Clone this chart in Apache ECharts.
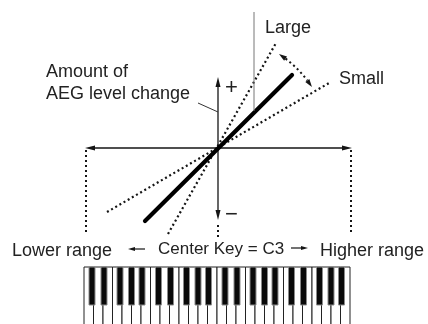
<!DOCTYPE html>
<html><head><meta charset="utf-8">
<script src="https://cdn.jsdelivr.net/npm/echarts/dist/echarts.min.js"></script>
<style>html,body{margin:0;padding:0;background:#fff}#c{width:428px;height:324px}</style>
</head><body><div id="c"></div>
<script>
// ---- Diagram data (origin = Center Key C3 / zero level change) ----
const largeLine   = [[-50, -86], [58, 105]];
const normalLine  = [[-73, -73], [74, 73]];
const smallLine   = [[-111, -64], [111, 65]];
const keyAxis     = [[-133, 0], [134, 0]];
const levelAxis   = [[0, 71], [0, -72]];
const levelAxisExt = [[0, -77], [0, -89]];
const lowerBound  = [[-132, -2], [-132, -84]];
const higherBound = [[133, -2], [133, -84]];
const largeLeader = [[36, 136], [36, 37]];
const aegLeader   = [[-20, 45], [0, 36]];
const leftArrow   = [[-73, -101], [-90, -101]];
const rightArrow  = [[73, -100], [90, -100]];
const arcRadius   = 112;
const arcAngles   = [33, 57];          // degrees, Small -> Large
const labelTexts  = ['Large', 'Small', 'Amount of', 'AEG level change', '+', '\u2212',
                     'Lower range', 'Center Key = C3', 'Higher range'];
const labelPos    = [[47, 120], [121, 69], [-172, 76], [-172, 54], [7, 60], [7, -67],
                     [-206, -103], [-60, -101], [102, -103]];
const labelSize   = [18, 18, 18, 18, 22, 22, 18, 17, 18];
const whiteKeyCount = 28;               // C1 .. B4
const blackKeyPattern = [0, 1, 3, 4, 5]; // C#, D#, F#, G#, A# (after white key index)
const blackKeyShift = [-1.5, 1, -2, 0, 1];

// ---- layout constants ----
const KB_LEFT = -134, KB_W = 9.5, KB_TOP = -119, KB_BLACK_BOTTOM = -157, KB_BOTTOM = -176, BK_W = 6;
const FONT = '"Liberation Sans", Arial, Helvetica, sans-serif';
const INK = '#151515';

function head(tip, from, len, wid, color) {
  const dx = tip[0] - from[0], dy = tip[1] - from[1];
  const L = Math.hypot(dx, dy), ux = dx / L, uy = dy / L;
  const bx = tip[0] - ux * len, by = tip[1] - uy * len;
  const px = -uy * wid / 2, py = ux * wid / 2;
  return {type: 'polygon', shape: {points: [tip, [bx + px, by + py], [bx - px, by - py]]},
          style: {fill: color, stroke: null}};
}

const segments = [
  {pts: keyAxis, w: 1.3, c: INK, heads: [1, 1], hl: 10, hw: 5},
  {pts: levelAxis, w: 1.3, c: INK, heads: [1, 1], hl: 10, hw: 5},
  {pts: levelAxisExt, w: 2, c: INK, dash: [2, 3]},
  {pts: lowerBound, w: 2, c: INK, dash: [2, 3]},
  {pts: higherBound, w: 2, c: INK, dash: [2, 3]},
  {pts: largeLine, w: 2.2, c: INK, dash: [2, 2.8]},
  {pts: smallLine, w: 2.2, c: INK, dash: [2, 2.8]},
  {pts: normalLine, w: 4.2, c: '#000', cap: 'round'},
  {pts: largeLeader, w: 1, c: '#777'},
  {pts: aegLeader, w: 1, c: '#333'},
  {pts: leftArrow, w: 1.2, c: INK, heads: [0, 1], hl: 7, hw: 4},
  {pts: rightArrow, w: 1.2, c: INK, heads: [0, 1], hl: 7, hw: 4}
];

const chart = echarts.init(document.getElementById('c'), null, {renderer: 'canvas'});

const option = {
  animation: false,
  backgroundColor: '#fff',
  grid: {left: 0, right: 0, top: 0, bottom: 0},
  xAxis: {type: 'value', min: -218, max: 210, show: false},
  yAxis: {type: 'value', min: -176, max: 148, show: false},
  series: [
    { // white keys
      type: 'custom', z: 1, clip: false,
      data: Array.from({length: whiteKeyCount}, (_, i) => [i]),
      renderItem: (params, api) => {
        const i = api.value(0);
        const a = api.coord([KB_LEFT + i * KB_W, KB_TOP]);
        const b = api.coord([KB_LEFT + (i + 1) * KB_W, KB_BOTTOM + 2]);
        return {type: 'rect', shape: {x: a[0], y: a[1], width: b[0] - a[0], height: b[1] - a[1] + 4},
                style: {fill: '#fff', stroke: '#222', lineWidth: 1}};
      }
    },
    { // black keys
      type: 'custom', z: 2, clip: false,
      data: (() => { const d = []; for (let o = 0; o < 4; o++) blackKeyPattern.forEach((k, j) => d.push([o * 7 + k, j])); return d; })(),
      renderItem: (params, api) => {
        const i = api.value(0), j = api.value(1);
        const cx = KB_LEFT + (i + 1) * KB_W + blackKeyShift[j];
        const a = api.coord([cx - BK_W / 2, KB_TOP]);
        const b = api.coord([cx + BK_W / 2, KB_BLACK_BOTTOM]);
        return {type: 'rect', shape: {x: a[0], y: a[1], width: b[0] - a[0], height: b[1] - a[1]},
                style: {fill: '#0a0a0a', stroke: '#8a8a8a', lineWidth: 1}};
      }
    },
    { // line segments and arrows
      type: 'custom', z: 3, clip: false,
      data: segments.map(s => [s.pts[0][0], s.pts[0][1], s.pts[1][0], s.pts[1][1]]),
      renderItem: (params, api) => {
        const s = segments[params.dataIndex];
        let p1 = api.coord([api.value(0), api.value(1)]);
        let p2 = api.coord([api.value(2), api.value(3)]);
        const children = [];
        const dx = p2[0] - p1[0], dy = p2[1] - p1[1], L = Math.hypot(dx, dy);
        const ux = dx / L, uy = dy / L;
        let q1 = p1.slice(), q2 = p2.slice();
        if (s.heads && s.heads[0]) { children.push(head(p1, p2, s.hl, s.hw, s.c)); q1 = [p1[0] + ux * s.hl * 0.8, p1[1] + uy * s.hl * 0.8]; }
        if (s.heads && s.heads[1]) { children.push(head(p2, p1, s.hl, s.hw, s.c)); q2 = [p2[0] - ux * s.hl * 0.8, p2[1] - uy * s.hl * 0.8]; }
        children.unshift({type: 'line', shape: {x1: q1[0], y1: q1[1], x2: q2[0], y2: q2[1]},
          style: {stroke: s.c, lineWidth: s.w, lineDash: s.dash || null, lineCap: s.cap || 'butt', fill: null}});
        return {type: 'group', children};
      }
    },
    { // arc between Large and Small with arrowheads
      type: 'custom', z: 3, clip: false,
      data: [[0, 0, arcRadius]],
      renderItem: (params, api) => {
        const c = api.coord([api.value(0), api.value(1)]);
        const r = api.size([api.value(2), 0])[0];
        const a0 = arcAngles[0] * Math.PI / 180, a1 = arcAngles[1] * Math.PI / 180;
        const pt = a => [c[0] + r * Math.cos(a), c[1] - r * Math.sin(a)];
        const hlA = 8 / r;
        return {type: 'group', children: [
          {type: 'arc', shape: {cx: c[0], cy: c[1], r, startAngle: -(a1 - hlA), endAngle: -(a0 + hlA), clockwise: true},
           style: {stroke: INK, lineWidth: 2, lineDash: [2, 3], fill: null}},
          head(pt(a1), pt(a1 - hlA), 8, 5, INK),
          head(pt(a0), pt(a0 + hlA), 8, 5, INK)
        ]};
      }
    },
    { // text labels
      type: 'custom', z: 4, clip: false,
      data: labelPos.map((p, i) => [p[0], p[1], i]),
      renderItem: (params, api) => {
        const p = api.coord([api.value(0), api.value(1)]);
        const i = api.value(2);
        return {type: 'text', x: p[0], y: p[1],
          style: {text: labelTexts[i], fill: '#222', fontSize: labelSize[i], fontFamily: FONT,
                  align: 'left', verticalAlign: 'middle'}};
      }
    }
  ]
};
chart.setOption(option);
</script>
</body></html>
